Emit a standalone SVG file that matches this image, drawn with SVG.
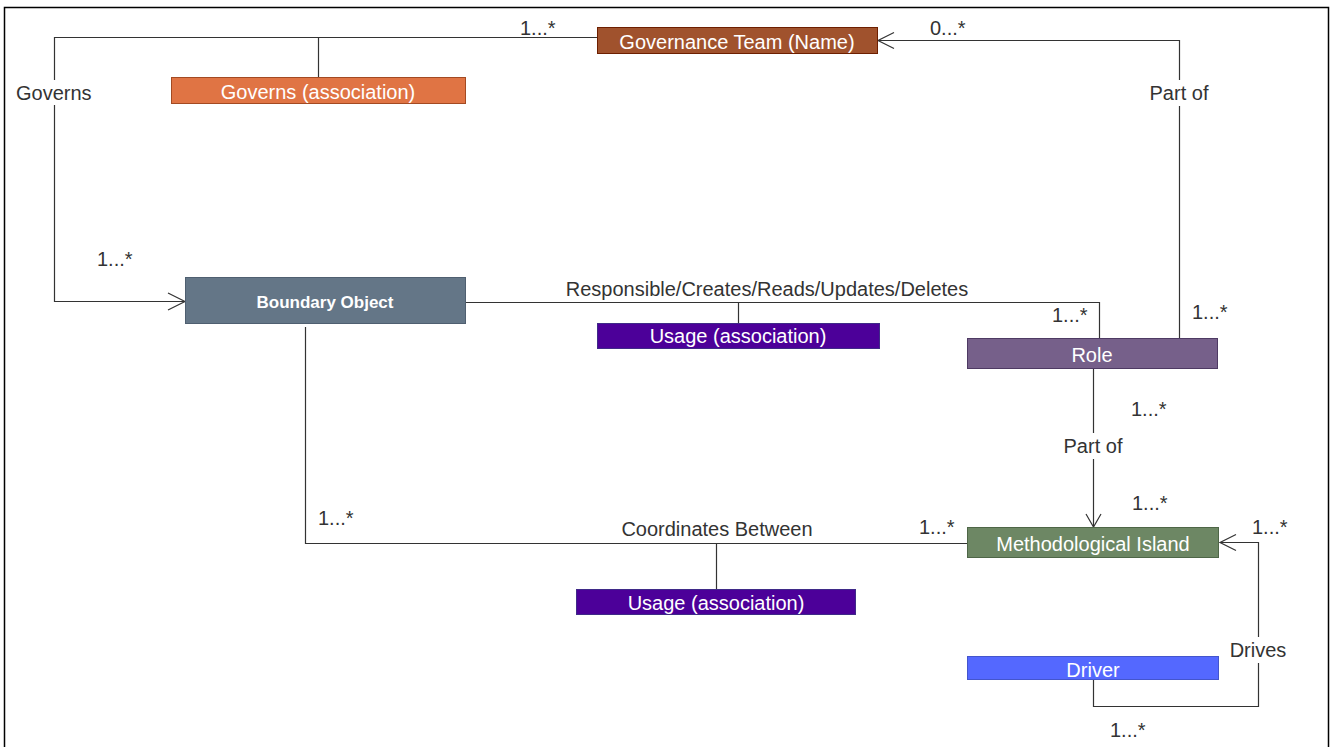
<svg xmlns="http://www.w3.org/2000/svg" width="1339" height="747" viewBox="0 0 1339 747">
  <style>
    .lbl { font-family: "Liberation Sans", Arial, sans-serif; font-size: 20px; fill: #333333; }
    .ntx { font-family: "Liberation Sans", Arial, sans-serif; font-size: 20px; fill: #ffffff; text-anchor: middle; }
    .bold { font-weight: bold; font-size: 17px; }
    .wire { fill: none; stroke: #333333; stroke-width: 1.2; }
    .head { fill: none; stroke: #333333; stroke-width: 1.2; }
    .mid { text-anchor: middle; }
  </style>

  <rect x="0" y="0" width="1339" height="747" fill="#ffffff"/>
  <!-- frame -->
  <rect x="4.5" y="7.5" width="1324" height="780" fill="none" stroke="#000000" stroke-width="1.5"/>

  <!-- connectors -->
  <g id="connectors">
    <!-- Governs: Governance Team -> Boundary Object -->
    <polyline class="wire" points="597,37.5 54.5,37.5 54.5,301.5 184,301.5"/>
    <polyline class="head" points="168,293 185,301.5 168,310"/>
    <line class="wire" x1="318.5" y1="37.5" x2="318.5" y2="77"/>
    <rect x="14" y="80" width="80" height="25" fill="#ffffff"/>
    <text class="lbl" x="16" y="100">Governs</text>
    <text class="lbl" x="520" y="35">1...*</text>
    <text class="lbl" x="97" y="266">1...*</text>

    <!-- Role part of Governance Team -->
    <polyline class="wire" points="1179.5,338 1179.5,40.5 879,40.5"/>
    <polyline class="head" points="894,32.5 878,40.5 894,48.5"/>
    <rect x="1146" y="80" width="66" height="26" fill="#ffffff"/>
    <text class="lbl mid" x="1179" y="100">Part of</text>
    <text class="lbl" x="930" y="35">0...*</text>
    <text class="lbl" x="1192" y="319">1...*</text>

    <!-- Boundary Object usage by Role -->
    <polyline class="wire" points="466,302.5 1099.5,302.5 1099.5,338"/>
    <line class="wire" x1="738.5" y1="302.5" x2="738.5" y2="323"/>
    <text class="lbl mid" x="767" y="296">Responsible/Creates/Reads/Updates/Deletes</text>
    <text class="lbl" x="1052" y="322">1...*</text>

    <!-- Role part of Methodological Island -->
    <line class="wire" x1="1093.5" y1="368" x2="1093.5" y2="526"/>
    <polyline class="head" points="1086,514 1093.5,527 1101,514"/>
    <rect x="1060" y="433" width="67" height="26" fill="#ffffff"/>
    <text class="lbl mid" x="1093" y="453">Part of</text>
    <text class="lbl" x="1131" y="416">1...*</text>
    <text class="lbl" x="1132" y="510">1...*</text>

    <!-- Boundary Object coordinates between Methodological Islands -->
    <polyline class="wire" points="305.5,327 305.5,543.5 967,543.5"/>
    <line class="wire" x1="716.5" y1="543.5" x2="716.5" y2="589"/>
    <text class="lbl mid" x="717" y="536">Coordinates Between</text>
    <text class="lbl" x="318" y="525">1...*</text>
    <text class="lbl" x="919" y="534">1...*</text>

    <!-- Driver drives Methodological Island -->
    <polyline class="wire" points="1093.5,679 1093.5,706.5 1258.5,706.5 1258.5,542.5 1221,542.5"/>
    <polyline class="head" points="1236,534.5 1220,542.5 1236,550.5"/>
    <rect x="1228" y="637" width="62" height="26" fill="#ffffff"/>
    <text class="lbl mid" x="1258" y="657">Drives</text>
    <text class="lbl" x="1252" y="534">1...*</text>
    <text class="lbl" x="1110" y="737">1...*</text>
  </g>

  <!-- nodes -->
  <g id="governance-team">
    <rect x="597.5" y="27.5" width="280" height="26" fill="#A0522D" stroke="#6D1F00"/>
    <text class="ntx" x="737" y="49">Governance Team (Name)</text>
  </g>
  <g id="governs-association">
    <rect x="171.5" y="77.5" width="294" height="26" fill="#E07444" stroke="#A34A22"/>
    <text class="ntx" x="318" y="99">Governs (association)</text>
  </g>
  <g id="boundary-object">
    <rect x="185.5" y="277.5" width="280" height="46" fill="#647687" stroke="#4F5F70"/>
    <text class="ntx bold" x="325" y="308">Boundary Object</text>
  </g>
  <g id="usage-association-1">
    <rect x="597.5" y="323.5" width="282" height="25" fill="#4C0099" stroke="#3F2A88"/>
    <text class="ntx" x="738" y="343">Usage (association)</text>
  </g>
  <g id="role">
    <rect x="967.5" y="338.5" width="250" height="30" fill="#76608A" stroke="#4E3A63"/>
    <text class="ntx" x="1092" y="362">Role</text>
  </g>
  <g id="methodological-island">
    <rect x="967.5" y="527.5" width="251" height="30" fill="#6D8764" stroke="#4E6647"/>
    <text class="ntx" x="1093" y="551">Methodological Island</text>
  </g>
  <g id="usage-association-2">
    <rect x="576.5" y="589.5" width="279" height="25" fill="#4C0099" stroke="#3F2A88"/>
    <text class="ntx" x="716" y="610">Usage (association)</text>
  </g>
  <g id="driver">
    <rect x="967.5" y="656.5" width="251" height="23" fill="#5468FF" stroke="#4455CC"/>
    <text class="ntx" x="1093" y="677">Driver</text>
  </g>
</svg>
